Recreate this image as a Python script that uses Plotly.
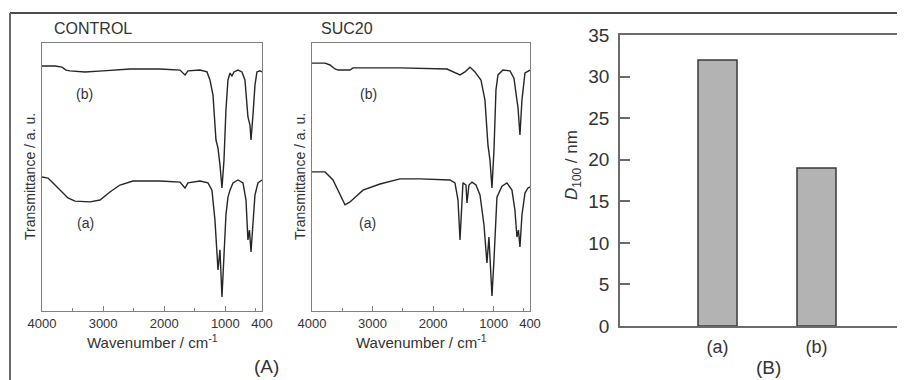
import plotly.graph_objects as go

# page body has an 8px default margin; the figure is sized to fill the rest of the window
OFF = 8
W, H = 905 - OFF, 380 - OFF

# ---------------- data ----------------
# CONTROL spectra: wavenumber (cm-1) and transmittance (a.u.)
ctrl_b_wn = [4000, 3787, 3673, 3607, 3542, 3297, 3002, 2560, 2070, 1742, 1660, 1611, 1415, 1300,
             1252, 1202, 1153, 1120, 1088, 1055, 1022, 990, 957, 924, 892, 859, 793, 728, 679,
             646, 630, 597, 580, 548, 515, 483, 433, 400]
ctrl_b_t = [91.4, 91.4, 91.0, 89.9, 89.6, 89.2, 89.6, 90.3, 90.3, 89.9, 88.1, 89.6, 89.9, 89.2,
            86.2, 80.6, 63.8, 60.8, 54.5, 45.9, 56.3, 75.0, 86.2, 88.8, 87.7, 89.2, 89.9, 89.2, 86.2,
            78.7, 72.4, 69.4, 63.8, 73.1, 84.3, 89.2, 89.6, 89.2]

ctrl_a_wn = [4000, 3902, 3836, 3705, 3575, 3460, 3215, 3051, 2888, 2724, 2511, 2070, 1742, 1660,
             1611, 1415, 1284, 1219, 1170, 1120, 1088, 1055, 1022, 990, 957, 924, 875, 793, 711,
             662, 630, 605, 580, 548, 515, 466, 400]
ctrl_a_t = [50.0, 49.6, 48.1, 45.1, 42.2, 41.0, 40.7, 41.4, 44.4, 47.0, 48.5, 48.5, 48.1, 45.9,
            47.8, 48.5, 47.8, 45.1, 34.0, 15.3, 22.8, 5.2, 19.0, 35.8, 42.5, 45.1, 47.8, 48.9, 47.8,
            41.4, 26.5, 30.2, 22.0, 34.0, 43.3, 47.8, 48.9]

# SUC20 spectra
suc_b_wn = [4000, 3785, 3703, 3620, 3571, 3373, 3323, 2993, 2547, 1771, 1639, 1556, 1474, 1391,
            1309, 1210, 1144, 1094, 1061, 1028, 995, 962, 929, 847, 731, 665, 616, 599, 566, 533,
            483, 400]
suc_b_t = [92.5, 92.5, 91.8, 90.3, 89.9, 89.9, 90.7, 90.7, 90.7, 90.3, 88.8, 88.1, 89.2, 91.0,
           89.2, 86.2, 78.7, 61.9, 56.3, 45.9, 60.1, 82.5, 88.1, 89.9, 89.6, 86.9, 78.7, 76.1, 65.7, 78.7,
           88.8, 89.9]

suc_a_wn = [4000, 3785, 3653, 3538, 3455, 3373, 3158, 2877, 2547, 2217, 1722, 1639, 1589, 1556,
            1523, 1507, 1457, 1441, 1408, 1358, 1292, 1226, 1160, 1111, 1078, 1028, 995, 946, 863,
            781, 698, 649, 616, 591, 566, 533, 483, 434, 400]
suc_a_t = [51.9, 51.9, 48.9, 43.3, 39.6, 40.7, 45.1, 47.4, 49.3, 49.3, 48.9, 47.8, 41.4, 26.5,
           41.4, 47.8, 47.0, 40.3, 47.0, 48.1, 47.0, 43.3, 32.1, 17.9, 27.6, 5.6, 19.0, 42.5, 46.6,
           47.8, 45.1, 37.7, 27.6, 30.2, 23.9, 35.8, 44.0, 45.9, 46.3]

wn_tickvals = [4000, 3000, 2000, 1000, 400]
wn_ticktext = ["4000", "3000", "2000", "1000", "400"]
wn_minor = [3500, 2500, 1500, 500]

# Bar chart
bar_cats = ["(a)", "(b)"]
bar_vals = [32, 19]
bar_ticks = [0, 5, 10, 15, 20, 25, 30, 35]

# ---------------- helpers (window pixels -> paper) ----------------
def px(x):
    return (x - OFF) / W

def py(y):
    return 1 - (y - OFF) / H

FONT = "Liberation Sans, Arial, sans-serif"
LINE = "#262626"
FRAME = "#808080"

fig = go.Figure()

for wn, t, xa, ya in [(ctrl_b_wn, ctrl_b_t, "x", "y"), (ctrl_a_wn, ctrl_a_t, "x", "y"),
                      (suc_b_wn, suc_b_t, "x2", "y2"), (suc_a_wn, suc_a_t, "x2", "y2")]:
    fig.add_trace(go.Scatter(x=wn, y=t, mode="lines", xaxis=xa, yaxis=ya,
                             line=dict(color=LINE, width=1.4), showlegend=False,
                             hoverinfo="skip"))

fig.add_trace(go.Bar(x=[0, 1], y=bar_vals, xaxis="x3", yaxis="y3", width=0.394,
                     marker=dict(color="#b3b3b3", line=dict(color="#3a3a3a", width=1.5)),
                     showlegend=False))

spec_x = dict(range=[4000, 400], tickvals=wn_tickvals, ticktext=wn_ticktext,
              ticks="inside", ticklen=5, tickcolor=FRAME, tickwidth=1,
              minor=dict(tickvals=wn_minor, ticks="inside", ticklen=3, tickcolor=FRAME),
              showline=True, linecolor=FRAME, linewidth=1, mirror=True,
              showgrid=False, zeroline=False, automargin=False,
              tickfont=dict(family=FONT, size=13, color="#333"), ticklabelstandoff=0)
spec_y = dict(range=[0, 100], showticklabels=False, ticks="", showline=True,
              linecolor=FRAME, linewidth=1, mirror=True, showgrid=False,
              zeroline=False, automargin=False)

fig.update_layout(
    width=W, height=H, margin=dict(l=0, r=0, t=0, b=0),
    paper_bgcolor="white", plot_bgcolor="white",
    xaxis=dict(domain=[px(42), px(262)], anchor="y", **spec_x),
    yaxis=dict(domain=[py(311), py(43)], anchor="x", **spec_y),
    xaxis2=dict(domain=[px(312), px(530)], anchor="y2", **spec_x),
    yaxis2=dict(domain=[py(311), py(43)], anchor="x2", **spec_y),
    xaxis3=dict(domain=[px(620), 1.0], anchor="y3", range=[-0.985, 1.894],
                tickvals=[0, 1], ticktext=bar_cats, ticks="", showline=True,
                linecolor="#6a6a6a", linewidth=1.5, mirror=True, showgrid=False,
                zeroline=False, automargin=False, ticklabelstandoff=4,
                tickfont=dict(family=FONT, size=18, color="#333")),
    yaxis3=dict(domain=[py(326), py(35)], anchor="x3", range=[0, 35],
                tickvals=bar_ticks, ticks="inside", ticklen=10, tickwidth=1.5,
                tickcolor="#6a6a6a", showline=True, linecolor="#6a6a6a", linewidth=1.5,
                showgrid=False, zeroline=False, automargin=False, ticklabelstandoff=5,
                tickfont=dict(family=FONT, size=19, color="#333")),
)

ann = []
def add_text(text, x, y, size, xanchor="center", angle=0):
    ann.append(dict(text=text, x=px(x), y=py(y), xref="paper", yref="paper",
                    xanchor=xanchor, yanchor="middle", showarrow=False, textangle=angle,
                    font=dict(family=FONT, size=size, color="#333")))

add_text("CONTROL", 52, 29, 16, xanchor="left")
add_text("SUC20", 319, 29, 16, xanchor="left")
add_text("(b)", 84, 94, 14)
add_text("(a)", 85, 223, 14)
add_text("(b)", 368, 94, 14)
add_text("(a)", 367, 223, 14)
add_text("Wavenumber / cm<sup>-1</sup>", 152, 341, 15)
add_text("Wavenumber / cm<sup>-1</sup>", 421, 341, 15)
add_text("Transmittance / a. u.", 30, 177, 14, angle=-90)
add_text("Transmittance / a. u.", 300, 177, 14, angle=-90)
add_text("<i>D</i><sub>100</sub> / nm", 573, 165, 17, angle=-90)
add_text("(A)", 266, 366, 19)
add_text("(B)", 768, 367, 19)
fig.update_layout(annotations=ann)

fig.update_layout(shapes=[
    dict(type="line", xref="paper", yref="paper", x0=px(10), x1=1.0, y0=py(13), y1=py(13),
         line=dict(color="#111", width=1.5)),
    dict(type="line", xref="paper", yref="paper", x0=px(10), x1=px(10), y0=py(13), y1=0,
         line=dict(color="#6a6a6a", width=2)),
])

fig.write_html("out.html")
